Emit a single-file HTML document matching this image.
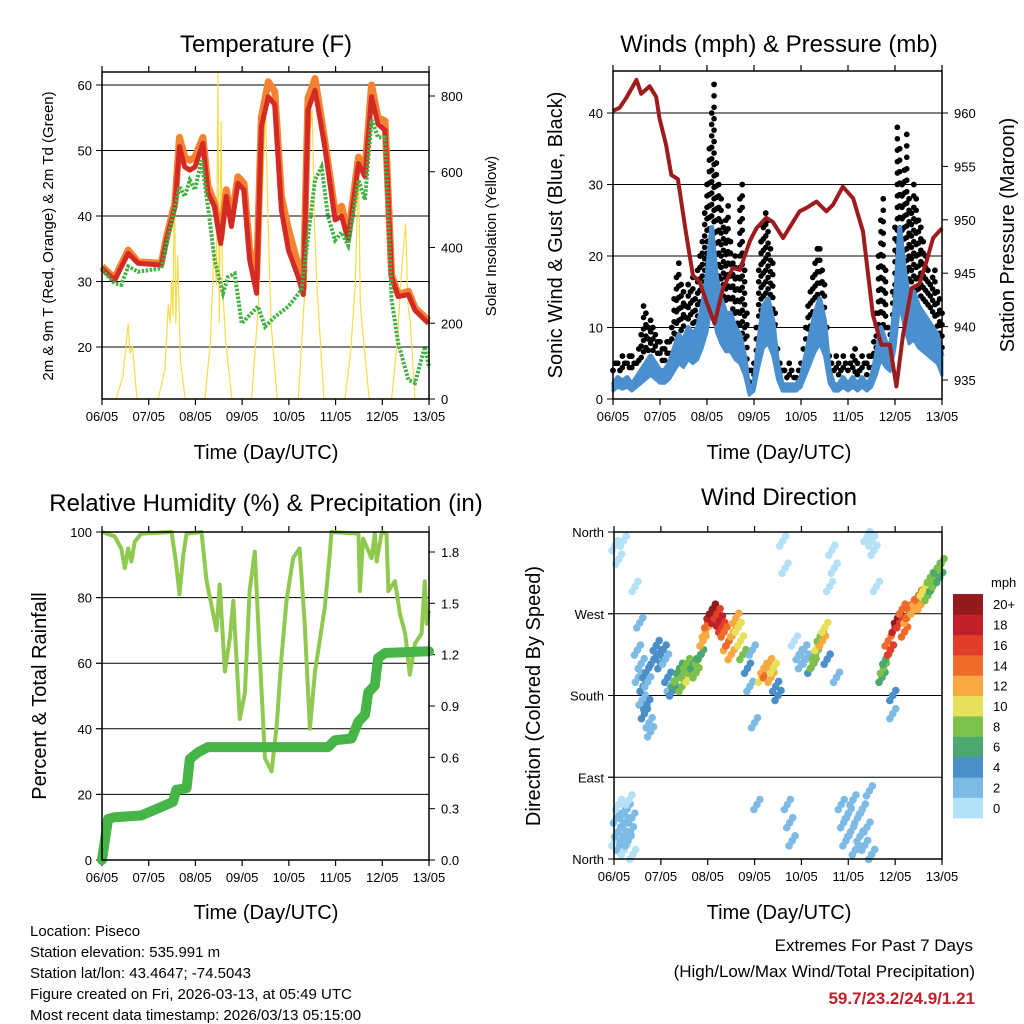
<!DOCTYPE html>
<html><head><meta charset="utf-8"><style>
html,body{margin:0;padding:0;background:#fff;}
svg{display:block;font-family:"Liberation Sans",Arial,sans-serif;}
</style></head><body>
<svg id="s" width="1024" height="1024" viewBox="0 0 1024 1024" xmlns="http://www.w3.org/2000/svg">
<rect width="1024" height="1024" fill="#fff"/>
<text x="266" y="52" font-size="24" text-anchor="middle">Temperature (F)</text>
<text x="779" y="52" font-size="24" text-anchor="middle">Winds (mph) &amp; Pressure (mb)</text>
<text x="266" y="511" font-size="24" text-anchor="middle">Relative Humidity (%) &amp; Precipitation (in)</text>
<text x="779" y="505" font-size="24" text-anchor="middle">Wind Direction</text>
<text x="266" y="459" font-size="20" text-anchor="middle">Time (Day/UTC)</text>
<text x="779" y="459" font-size="20" text-anchor="middle">Time (Day/UTC)</text>
<text x="266" y="919" font-size="20" text-anchor="middle">Time (Day/UTC)</text>
<text x="779" y="919" font-size="20" text-anchor="middle">Time (Day/UTC)</text>
<text transform="translate(53,236) rotate(-90)" font-size="15" text-anchor="middle">2m &amp; 9m T (Red, Orange) &amp; 2m Td (Green)</text>
<text transform="translate(496,236) rotate(-90)" font-size="15" text-anchor="middle">Solar Insolation (Yellow)</text>
<text transform="translate(562,235) rotate(-90)" font-size="20" text-anchor="middle">Sonic Wind &amp; Gust (Blue, Black)</text>
<text transform="translate(1014,235) rotate(-90)" font-size="20" text-anchor="middle">Station Pressure (Maroon)</text>
<text transform="translate(46,696) rotate(-90)" font-size="20" text-anchor="middle">Percent &amp; Total Rainfall</text>
<text transform="translate(540,696) rotate(-90)" font-size="20" text-anchor="middle">Direction (Colored By Speed)</text>
<g font-size="15">
<text x="30" y="936">Location: Piseco</text>
<text x="30" y="957">Station elevation: 535.991 m</text>
<text x="30" y="978">Station lat/lon: 43.4647; -74.5043</text>
<text x="30" y="999">Figure created on Fri, 2026-03-13, at 05:49 UTC</text>
<text x="30" y="1020">Most recent data timestamp: 2026/03/13 05:15:00</text>
</g>
<g font-size="17" text-anchor="end">
<text x="973" y="951">Extremes For Past 7 Days</text>
<text x="975" y="977">(High/Low/Max Wind/Total Precipitation)</text>
<text x="975" y="1004" fill="#c0202a" font-weight="bold">59.7/23.2/24.9/1.21</text>
</g>
</svg>
<script>
// ---- data ----
const dayLabels = ["06/05","07/05","08/05","09/05","10/05","11/05","12/05","13/05"];
const tempTimes = [0,.27,.56,.77,1.27,1.38,1.56,1.66,1.77,1.88,1.99,2.16,2.27,2.41,2.54,2.66,2.77,2.91,3.04,3.16,3.31,3.41,3.56,3.70,3.84,3.99,4.2,4.31,4.41,4.56,4.77,4.99,5.13,5.27,5.49,5.63,5.77,5.91,6.06,6.2,6.34,6.56,6.7,6.99];
const tempRed = [32.0,30.2,34.3,32.8,32.5,36.3,41.4,50.6,47.5,47,47.5,51.1,43.5,41.4,35.8,43,38.4,45,44,33.3,28.2,53.6,58.2,57,40.9,34.8,30.7,28,56.2,59.2,50.6,39.4,40,36.3,48,46,58.2,54,53.1,30.7,27.7,28,25.6,23.6];
const tempOrange = [32.3,30.5,34.8,33,32.8,36.8,42,52,49,48.5,49,52,44.5,42,36.5,44,39.5,46,45,35,30.5,55,60.5,59,43,38,32.5,29,58,61,51.5,40.5,41.5,37,49,47,60,55,54.5,31,28,28.5,26,24];
const dewTimes = [0,.27,.41,.56,.77,1.27,1.56,1.66,1.77,1.88,1.99,2.13,2.27,2.41,2.59,2.7,2.84,2.99,3.34,3.49,3.7,3.99,4.27,4.56,4.7,4.84,4.99,5.13,5.27,5.49,5.63,5.77,5.91,6.06,6.2,6.34,6.56,6.7,6.91,7];
const dewValues = [31.8,29.7,29.5,32.3,31.5,32,41.4,44.5,43,45.5,44,48.5,41.4,33.3,28.2,30.7,31.2,23.6,26.2,23.1,24.6,26.2,28.7,45.5,47.5,39.9,36.3,37.5,35.5,45.5,42.5,54.7,52,52,27.2,20.6,15,14.5,20,17];
const solarTimes = [0,.3,.45,.52,.56,.6,.65,.75,1.2,1.35,1.42,1.46,1.49,1.52,1.55,1.58,1.62,1.68,1.78,2.2,2.32,2.4,2.45,2.48,2.51,2.55,2.58,2.65,2.78,3.2,3.35,3.45,3.5,3.55,3.62,3.75,4.2,4.35,4.45,4.5,4.55,4.6,4.75,5.2,5.32,5.42,5.49,5.53,5.58,5.72,6.2,6.32,6.42,6.5,6.55,6.6,6.7,7];
const solarValues = [0,0,60,150,200,120,140,0,0,80,250,200,315,220,605,200,380,100,0,0,150,400,300,860,200,733,300,150,0,0,250,600,773,500,200,0,0,300,700,764,450,300,0,0,120,300,614,250,180,0,0,150,350,464,250,200,0,0];
const sonicWind = [2,3,2.5,3,2,3,4,5,6,5,4,4,5,7,9,8,10,9,10,13,17,24,17,14,12,12,10,9,6,1,2,8,13,14,11,5,2,2,2,2,3,6,9,12,14,11,4,2,2,3,2,3,2,3,2,3,6,10,8,7,13,24,18,14,15,13,12,11,10,9,6];
const gustA = [4,5,6,5,6,5,9,12,11,9,8,7,8,14,19,15,16,17,18,22,30,40,33,28,25,22,20,28,18,4,5,18,24,25,19,7,4,3,4,3,5,10,15,19,21,16,6,4,5,6,4,6,5,6,5,6,12,25,18,9,24,35,32,28,30,25,22,18,17,15,12];
const gustB = [5,4,5,6,5,7,13,10,10,8,7,8,10,17,16,13,15,14,20,26,35,44,30,24,27,19,17,30,12,4,10,22,26,21,12,5,4,5,3,4,7,13,17,21,18,10,5,6,4,5,5,7,4,5,6,8,20,28,10,15,38,30,37,26,28,24,20,16,18,14];
const presTimes = [0,.14,.28,.5,.6,.78,.92,.99,1.13,1.24,1.38,1.56,1.7,1.84,1.99,2.16,2.34,2.55,2.7,2.91,3.05,3.26,3.4,3.62,3.83,3.97,4.11,4.33,4.54,4.68,4.89,5.11,5.32,5.53,5.71,5.89,6.03,6.17,6.35,6.52,6.67,6.81,7];
const presValues = [960.2,960.5,961.4,963.1,961.8,962.5,961.5,959.5,957,954.2,953.8,948.6,944.8,944.2,942.3,940.3,943.6,945.5,945.3,948,949.2,950.2,949.8,948.3,949.8,950.8,951.1,951.7,950.8,951.4,953.1,952,948.9,941.1,938.3,938.3,934.4,939.2,943.6,944,946.1,948.3,949.2];
const rhTimes = [0,.27,.41,.49,.56,.63,.7,.84,1.49,1.59,1.66,1.74,1.81,2.13,2.24,2.34,2.45,2.52,2.63,2.74,2.81,2.95,3.06,3.16,3.27,3.38,3.49,3.63,3.74,3.84,3.95,4.09,4.23,4.34,4.45,4.56,4.77,4.88,4.91,5.49,5.52,5.59,5.77,5.84,5.88,5.99,6.09,6.13,6.27,6.38,6.49,6.59,6.7,6.84,6.91,6.95,7];
const rhValues = [100,98.7,95,89,95,91,97,99.5,100,90,81,93,99.5,100,85,78,70,84,57.5,68,79,43,51,82,94,61.5,31,27,41,61.5,79,92,95,72,40,57.5,77,94,100,99.5,82,98,92,99.5,91,100,99.5,82,85,75,69,56.5,66,69,85,72,76];
const rainTimes = [0,.13,.27,.84,1.27,1.52,1.59,1.81,1.88,2.06,2.27,4.84,4.99,5.34,5.49,5.63,5.7,5.84,5.91,6.06,7];
const rainValues = [0,.24,.25,.26,.31,.34,.41,.42,.59,.63,.66,.66,.70,.71,.81,.85,.98,1.02,1.18,1.21,1.22];
const dirTimes = [0.02,0.05,0.08,0.1,0.12,0.15,0.18,0.2,0.22,0.25,0.28,0.3,0.32,0.35,0.38,0.4,0.02,0.2,0.1,0.45,0.5,0.52,0.55,0.58,0.6,0.62,0.65,0.68,0.7,0.72,0.75,0.78,0.85,0.9,0.95,1.0,1.05,1.1,1.15,1.2,1.25,1.3,1.35,1.4,1.45,1.5,1.55,1.6,1.65,1.7,1.75,1.8,1.85,1.9,1.95,2.0,2.05,2.1,2.15,2.2,2.25,2.3,2.35,2.4,2.45,2.5,2.55,2.6,2.65,2.7,2.75,2.85,2.9,2.95,3.0,3.05,3.15,3.2,3.25,3.3,3.35,3.4,3.45,3.5,3.6,3.65,3.7,3.75,3.8,3.85,3.95,4.0,4.05,4.1,4.2,4.25,4.3,4.35,4.4,4.45,4.5,4.55,4.6,4.65,4.7,4.75,4.85,4.9,4.95,5.0,5.05,5.1,5.15,5.2,5.25,5.3,5.35,5.4,5.45,5.5,5.4,5.5,5.55,5.6,5.72,5.75,5.8,5.85,5.9,5.95,5.95,6.0,6.05,6.1,6.15,6.2,6.25,6.3,6.35,6.4,6.45,6.5,6.55,6.6,6.65,6.7,6.75,6.8,6.85,6.9,6.95,6.98];
const dirValues = [20,45,30,60,15,35,50,25,10,40,55,20,65,30,45,5,345,350,330,300,230,200,260,215,175,190,160,205,170,195,150,140,220,235,225,215,230,220,200,190,185,195,200,210,190,205,215,200,210,215,205,220,225,240,250,260,270,275,265,270,262,255,250,235,240,225,250,265,255,240,225,210,190,230,150,60,200,210,205,215,200,210,190,180,350,320,60,40,20,240,225,215,230,220,210,215,225,235,245,240,255,220,300,340,320,200,60,40,20,50,30,65,10,45,25,55,15,35,75,5,355,350,340,300,200,210,220,240,230,180,160,255,265,260,275,250,265,270,280,275,285,290,280,295,300,290,310,300,305,320,310,325];
const dirSpeeds = [1,2,2,1,2,3,2,2,1,2,2,2,1,2,2,1,1,1,1,1,2,2,2,3,3,4,4,4,4,3,3,2,4,4,4,4,4,3,4,3,4,6,8,7,8,9,8,10,9,7,8,9,7,12,13,14,18,20,19,17,18,16,14,13,15,12,12,12,11,10,8,4,3,2,2,2,10,12,14,13,12,10,4,4,1,1,2,2,2,1,2,3,2,2,4,8,9,10,9,12,10,5,1,1,1,2,2,3,2,2,2,3,2,2,2,3,2,2,2,2,1,1,1,1,7,8,7,14,16,4,3,18,20,16,15,14,12,15,14,13,12,14,12,11,10,9,8,7,8,6,7,9];
const speedColors = ["#b3e2f8","#7dbbe6","#4a8fc8","#4aa870","#7bc14b","#e6e05a","#f7a942","#ef6b2a","#e23c2a","#c0202a","#931b1e"];
const speedLabels = ["0","2","4","6","8","10","12","14","16","18","20+"];
const tempTicks = [20,30,40,50,60];
const solarTicks = [0,200,400,600,800];
const windTicks = [0,10,20,30,40];
const presTicks = [935,940,945,950,955,960];
const rhTicks = [0,20,40,60,80,100];
const rainTicks = [0,0.3,0.6,0.9,1.2,1.5,1.8];
const dirTicks = [0,90,180,270,360];
const dirTickLabels = ["North","East","South","West","North"];

// ---- scales ----
const NS = "http://www.w3.org/2000/svg";
const svg = document.getElementById("s");
function mk(tag, attrs, parent){ const e=document.createElementNS(NS,tag); for(const k in attrs) e.setAttribute(k,attrs[k]); (parent||svg).appendChild(e); return e; }
function xScale(x0,x1){ return t => x0 + t/7*(x1-x0); }
function lin(d0,d1,r0,r1){ return v => r0 + (v-d0)/(d1-d0)*(r1-r0); }
const P1={x0:102,x1:429,y0:72,y1:399}, P2={x0:613,x1:942,y0:71,y1:399}, P3={x0:102,x1:429,y0:532,y1:860}, P4={x0:614,x1:942,y0:532,y1:859};
const x1s=xScale(P1.x0,P1.x1), yT=lin(20,60,347,85), yS=lin(0,800,399,96);
const x2s=xScale(P2.x0,P2.x1), yW=lin(0,40,399,113), yP=lin(935,960,380,113);
const x3s=xScale(P3.x0,P3.x1), yRH=lin(0,100,860,532), yR=lin(0,1.8,860,552);
const x4s=xScale(P4.x0,P4.x1), yD=lin(0,360,859,532);

function pathFrom(xs,ys,xsc,ysc){ return xs.map((t,i)=>(i?"L":"M")+xsc(t).toFixed(1)+","+ysc(ys[i]).toFixed(1)).join(""); }

function frame(P, xs, name){
  const g=mk("g",{});
  
  
  dayLabels.forEach((lab,i)=>{
    const x=xs(i);
    mk("line",{x1:x,x2:x,y1:P.y1,y2:P.y1+6,stroke:"#000","stroke-width":1.2},g);
    mk("line",{x1:x,x2:x,y1:P.y0,y2:P.y0-6,stroke:"#000","stroke-width":1.2},g);
    const tx=mk("text",{x:x,y:P.y1+22,"font-size":13,"text-anchor":"middle"},g);
    
    
    tx.textContent=lab;
  });
  return g;
}
function border(P,name){
  const r=mk("rect",{x:P.x0,y:P.y0,width:P.x1-P.x0,height:P.y1-P.y0,fill:"none",stroke:"#000","stroke-width":1.5});
  
  
}
function yAxis(P,ticks,ysc,side,labels,grid,fmt,name){
  const g=mk("g",{});
  
  
  ticks.forEach((v,i)=>{
    const y=ysc(v);
    if(grid) mk("line",{x1:P.x0-6,x2:P.x1,y1:y,y2:y,stroke:"#000","stroke-width":1},g);
    if(side==="l"){
      mk("line",{x1:P.x0-6,x2:P.x0,y1:y,y2:y,stroke:"#000"},g);
      const t=mk("text",{x:P.x0-10,y:y+5,"font-size":13,"text-anchor":"end"},g);
      
      
      t.textContent=labels?labels[i]:(fmt?fmt(v):v);
    } else {
      mk("line",{x1:P.x1,x2:P.x1+6,y1:y,y2:y,stroke:"#000"},g);
      const t=mk("text",{x:P.x1+12,y:y+5,"font-size":13,"text-anchor":"start"},g);
      
      
      t.textContent=labels?labels[i]:(fmt?fmt(v):v);
    }
  });
}

// ---- Panel 1: temperature ----
frame(P1,x1s,"temperature");
yAxis(P1,tempTicks,yT,"l",null,true,null,"temp-left-axis");
yAxis(P1,solarTicks,yS,"r",null,false,null,"solar-right-axis");
let e;
e=mk("path",{d:pathFrom(solarTimes,solarValues,x1s,yS),fill:"none",stroke:"#f7dc4a","stroke-width":1.2});


e=mk("path",{d:pathFrom(tempTimes,tempOrange,x1s,yT),fill:"none",stroke:"#f58230","stroke-width":7,"stroke-linejoin":"round"});


e=mk("path",{d:pathFrom(tempTimes,tempRed,x1s,yT),fill:"none",stroke:"#d42a26","stroke-width":5,"stroke-linejoin":"round"});


e=mk("path",{d:pathFrom(dewTimes,dewValues,x1s,yT),fill:"none",stroke:"#45b045","stroke-width":4,"stroke-dasharray":"2.5 1.5"});


border(P1,"temperature");

// ---- Panel 2: winds ----
frame(P2,x2s,"winds");
yAxis(P2,windTicks,yW,"l",null,true,null,"wind-left-axis");
yAxis(P2,presTicks,yP,"r",null,false,null,"pressure-right-axis");
const windTimes = sonicWind.map((_,i)=>i*0.1);
function gustColumn(t, g, base){
  // dots from just above the sonic wind up to the gust value
  for(let v=g; v>base+1; v-=1.6){
    const c=mk("circle",{cx:x2s(t),cy:yW(v),r:2.8,fill:"#000"});
    
    
  }
  const c=mk("circle",{cx:x2s(t),cy:yW(g),r:2.8,fill:"#000"});
  
  
}
windTimes.forEach((t,i)=>{ gustColumn(t, gustA[i], sonicWind[i]); });
gustB.forEach((v,i)=>{ gustColumn(i*0.1+0.05, v, (sonicWind[i]+sonicWind[i+1])/2); });
// sonic wind band (lower edge ~60% of upper)
const bandTop = windTimes.map((t,i)=>x2s(t).toFixed(1)+","+yW(sonicWind[i]).toFixed(1));
const bandBot = windTimes.map((t,i)=>x2s(t).toFixed(1)+","+yW(sonicWind[i]*0.55).toFixed(1)).reverse();
e=mk("polygon",{points:bandTop.concat(bandBot).join(" "),fill:"#4a90cf",stroke:"#4a90cf","stroke-width":3,"stroke-linejoin":"round"});


e=mk("path",{d:pathFrom(windTimes,sonicWind,x2s,yW),fill:"none",stroke:"#4a90cf","stroke-width":5,"stroke-linejoin":"round"});


e=mk("path",{d:pathFrom(presTimes,presValues,x2s,yP),fill:"none",stroke:"#9e1b1e","stroke-width":4,"stroke-linejoin":"round"});


border(P2,"winds");

// ---- Panel 3: RH & precipitation ----
frame(P3,x3s,"humidity");
yAxis(P3,rhTicks,yRH,"l",null,true,null,"rh-left-axis");
yAxis(P3,rainTicks,yR,"r",null,false,v=>v.toFixed(1),"rain-right-axis");
e=mk("path",{d:pathFrom(rhTimes,rhValues,x3s,yRH),fill:"none",stroke:"#8fc94f","stroke-width":4,"stroke-linejoin":"round"});


e=mk("path",{d:pathFrom(rainTimes,rainValues,x3s,yR),fill:"none",stroke:"#46b446","stroke-width":10,"stroke-linejoin":"round","stroke-linecap":"round"});


border(P3,"humidity");

// ---- Panel 4: wind direction ----
frame(P4,x4s,"direction");
yAxis(P4,dirTicks,yD,"l",dirTickLabels,true,null,"direction-left-axis");
const markOffsets=[[0,0],[-3,5],[3,-5]];
dirTimes.forEach((t,i)=>{
  const b=Math.min(10,Math.floor(dirSpeeds[i]/2));
  markOffsets.forEach(o=>{
    const c=mk("circle",{cx:x4s(t)+o[0],cy:yD(dirValues[i])+o[1],r:3.8,fill:speedColors[b]});
    
    
  });
});
border(P4,"direction");
// color bar
const cb=mk("g",{});


const cbTop=594, cbH=224/11;
speedColors.forEach((col,i)=>{
  const y=cbTop+(10-i)*cbH;
  const r=mk("rect",{x:953,y:y,width:30,height:cbH+0.3,fill:col},cb);
  
  
  const t=mk("text",{x:993,y:y+cbH/2+5,"font-size":13},cb);
  
  
  t.textContent=speedLabels[i];
});
const mph=mk("text",{x:991,y:587,"font-size":13},cb);


mph.textContent="mph";
</script>
</body></html>
